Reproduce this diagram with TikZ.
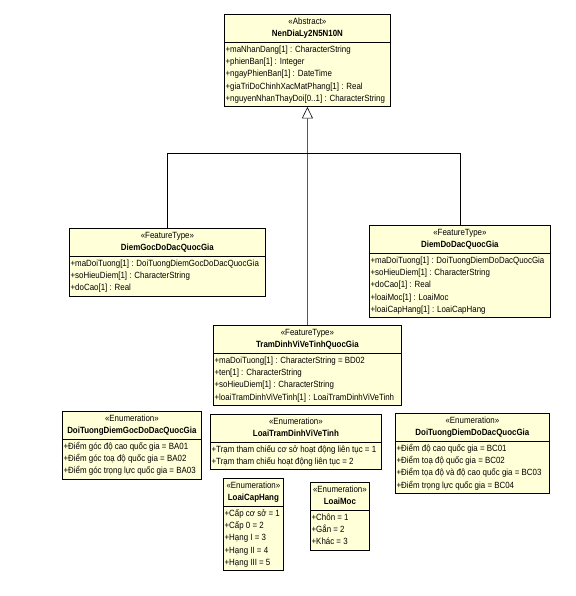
\documentclass[tikz,border=0pt]{standalone}
\usepackage{fontspec}
\setmainfont[FakeStretch=0.88]{Liberation Sans}
\usetikzlibrary{arrows.meta, shapes.multipart, positioning}

\definecolor{umlfill}{RGB}{255,255,216}
\newcommand{\attrs}[1]{\begin{tabular}{@{}l@{}}#1\end{tabular}}

\tikzset{
  umlclass/.style={rectangle split, rectangle split parts=2, draw=black, line width=0.8bp,
    fill=umlfill, anchor=north west, align=center, inner xsep=1.2bp, inner ysep=1.2bp,
    rectangle split part align={center,left},
    font=\fontsize{9bp}{12.25bp}\selectfont},
  generalization/.style={draw=black, line width=0.6bp},
}

\begin{document}
\begin{tikzpicture}[x=1bp, y=-1bp]
        \useasboundingbox (0,0) rectangle (576,596);

        % abstract base class
        \node[umlclass, minimum width=166bp] (nendialy) at (224,14) {%
          «Abstract»\strut\\\textbf{NenDiaLy2N5N10N}\strut
          \nodepart{two}\attrs{+maNhanDang[1] : CharacterString\\
            +phienBan[1] : Integer\\
            +ngayPhienBan[1] : DateTime\\
            +giaTriDoChinhXacMatPhang[1] : Real\\
            +nguyenNhanThayDoi[0..1] : CharacterString}};

        % feature types
        \node[umlclass, minimum width=196bp] (diemgoc) at (69,228) {%
          «FeatureType»\strut\\\textbf{DiemGocDoDacQuocGia}\strut
          \nodepart{two}\attrs{+maDoiTuong[1] : DoiTuongDiemGocDoDacQuocGia\\
            +soHieuDiem[1] : CharacterString\\
            +doCao[1] : Real}};
        \node[umlclass, minimum width=181bp] (diemdodac) at (369,225) {%
          «FeatureType»\strut\\\textbf{DiemDoDacQuocGia}\strut
          \nodepart{two}\attrs{+maDoiTuong[1] : DoiTuongDiemDoDacQuocGia\\
            +soHieuDiem[1] : CharacterString\\
            +doCao[1] : Real\\
            +loaiMoc[1] : LoaiMoc\\
            +loaiCapHang[1] : LoaiCapHang}};
        \node[umlclass, minimum width=188bp] (tramdinhvi) at (213,325) {%
          «FeatureType»\strut\\\textbf{TramDinhViVeTinhQuocGia}\strut
          \nodepart{two}\attrs{+maDoiTuong[1] : CharacterString = BD02\\
            +ten[1] : CharacterString\\
            +soHieuDiem[1] : CharacterString\\
            +loaiTramDinhViVeTinh[1] : LoaiTramDinhViVeTinh}};

        % enumerations
        \node[umlclass, minimum width=139bp] (enumgoc) at (62,411) {%
          «Enumeration»\strut\\\textbf{DoiTuongDiemGocDoDacQuocGia}\strut
          \nodepart{two}\attrs{+Điểm góc độ cao quốc gia = BA01\\
            +Điểm góc toạ độ quốc gia = BA02\\
            +Điểm góc trọng lực quốc gia = BA03}};
        \node[umlclass, minimum width=171bp] (enumtram) at (210,414) {%
          «Enumeration»\strut\\\textbf{LoaiTramDinhViVeTinh}\strut
          \nodepart{two}\attrs{+Trạm tham chiếu cơ sở hoạt động liên tục = 1\\
            +Trạm tham chiếu hoạt động liên tục = 2}};
        \node[umlclass, minimum width=154bp] (enumdodac) at (395,413) {%
          «Enumeration»\strut\\\textbf{DoiTuongDiemDoDacQuocGia}\strut
          \nodepart{two}\attrs{+Điểm độ cao quốc gia = BC01\\
            +Điểm toạ độ quốc gia = BC02\\
            +Điểm tọa độ và độ cao quốc gia = BC03\\
            +Điểm trọng lực quốc gia = BC04}};
        \node[umlclass, minimum width=60bp] (enumcaphang) at (223,478) {%
          «Enumeration»\strut\\\textbf{LoaiCapHang}\strut
          \nodepart{two}\attrs{+Cấp cơ sở = 1\\
            +Cấp 0 = 2\\
            +Hạng I = 3\\
            +Hạng II = 4\\
            +Hạng III = 5}};
        \node[umlclass, minimum width=59bp] (enummoc) at (310,482) {%
          «Enumeration»\strut\\\textbf{LoaiMoc}\strut
          \nodepart{two}\attrs{+Chôn = 1\\
            +Gắn = 2\\
            +Khác = 3}};

        % generalization
        \coordinate (joint) at (307,153);
        \draw[generalization, -{Triangle[open, length=11.5bp, width=11bp]}] (tramdinhvi.north) -- (nendialy.south);
        \draw[generalization] (diemgoc.north) |- (joint);
        \draw[generalization] (diemdodac.north) |- (joint);

      \end{tikzpicture}
\end{document}
